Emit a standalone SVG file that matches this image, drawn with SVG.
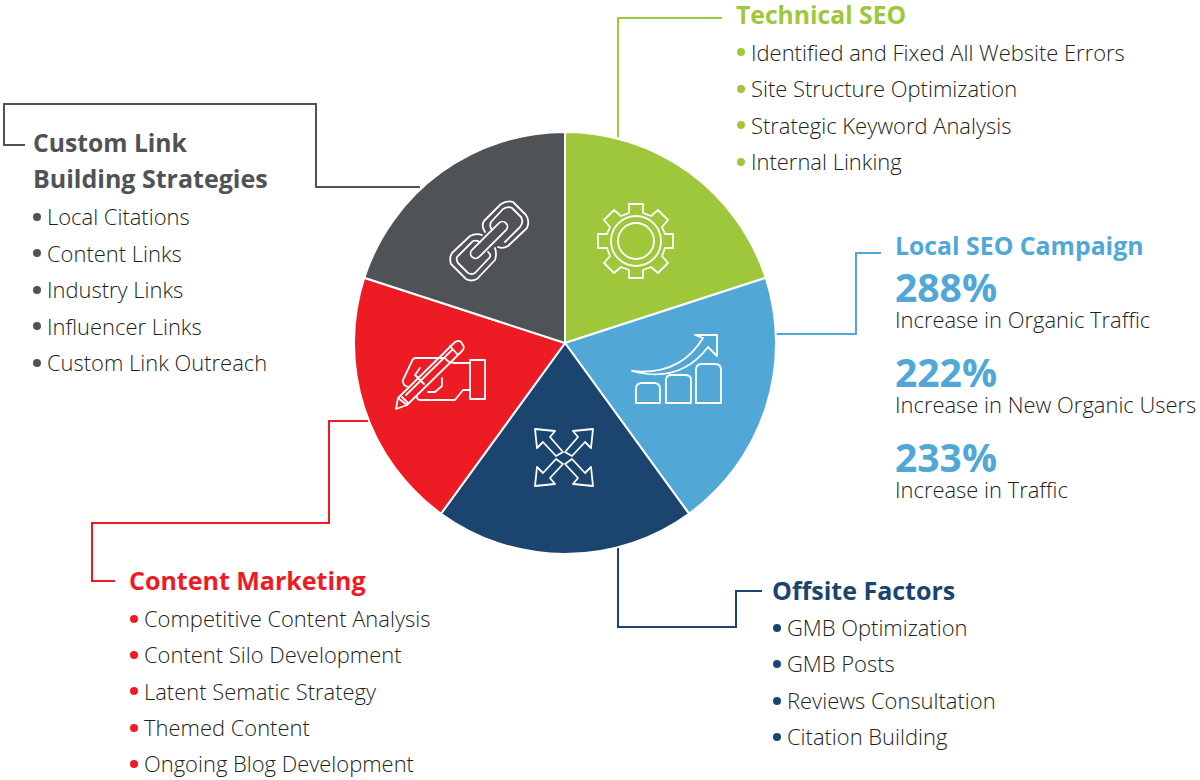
<svg xmlns="http://www.w3.org/2000/svg" width="1200" height="780" viewBox="0 0 1200 780">
<style>
text{font-family:"Open Sans","Noto Sans","Liberation Sans",sans-serif}
.h{font-size:25px;font-weight:700}
.t{font-size:21.95px;font-weight:300;fill:#231f20}
.n{font-size:39px;font-weight:700;fill:#51a7d6}
.c{fill:none;stroke-width:2}
.w{fill:none;stroke:#fff;stroke-width:1.8;stroke-linejoin:round;stroke-linecap:round}
.s{stroke:#fff;stroke-width:2}
</style>
<rect width="1200" height="780" fill="#fff"/>
<g id="connectors">
<path class="c" stroke="#9fc73b" d="M618 137V18H722"/>
<path class="c" stroke="#51a7d6" d="M776 334H856V253H881"/>
<path class="c" stroke="#1b456e" d="M618 546V627H736V591H762"/>
<path class="c" stroke="#ed1c24" d="M372 421H329V523H92V581H115"/>
<path class="c" stroke="#4f5356" d="M420 187H316V104H4V145H25"/>
</g>
<g id="pie">
<path class="s" fill="#9fc73b" d="M565 343V132A211 211 0 0 1 765.7 277.8Z"/>
<path class="s" fill="#51a7d6" d="M565 343L765.7 277.8A211 211 0 0 1 689 513.7Z"/>
<path class="s" fill="#1b456e" d="M565 343L689 513.7A211 211 0 0 1 441 513.7Z"/>
<path class="s" fill="#ed1c24" d="M565 343L441 513.7A211 211 0 0 1 364.3 277.8Z"/>
<path class="s" fill="#4f5356" d="M565 343L364.3 277.8A211 211 0 0 1 565 132Z"/>
</g>
<g id="icon-gear">
<circle class="w" cx="636" cy="241" r="25"/><circle class="w" cx="636" cy="241" r="18"/>
<path class="w" d="M629 204H643V213L651 216L658 210L668 220L662 227L665 234H673V248H665L662 256L668 263L658 273L651 267L643 270V278H629V270L621 267L614 273L604 263L610 256L607 248H598V234H607L610 227L604 220L614 210L621 216L629 213Z"/>
</g>
<g id="icon-chart">
<path class="w" d="M636 403V389Q636 383 642 383H654Q660 383 660 389V403Z"/>
<path class="w" d="M666 403V380Q666 375 672 375H685Q691 375 691 380V403Z"/>
<path class="w" d="M696 403V370Q696 364 702 364H715Q721 364 721 370V403Z"/>
<path class="w" d="M632 371Q680 376 703 338L695 335H717V356L708 347Q680 384 632 371Z"/>
</g>
<g id="icon-arrows">
<path class="w" d="M535 429L555 431L550 437L563 452L556 456L543 442L537 448Z"/>
<path class="w" d="M593 429L573 431L578 437L565 452L572 456L585 442L591 448Z"/>
<path class="w" d="M535 486L555 484L550 478L563 464L556 459L543 473L537 467Z"/>
<path class="w" d="M593 486L573 484L578 478L565 464L572 459L585 473L591 467Z"/>
</g>
<g id="icon-pencil">
<path class="w" d="M396 409L398 398L455 342Q459 340 461 342L463 345Q465 348 462 351L407 405Z"/>
<path class="w" d="M398 398L407 405M402 397L408 403M450 346L457 354M406 395L452 350"/>
<path class="w" d="M470 360H485V399H470ZM470 363H455Q448 363 445 358H416Q413 358 412 361L403 380Q402 385 408 387"/>
<path class="w" d="M470 390H463L455 400H421Q417 400 417 397"/>
<path class="w" d="M420 368L415 375L424 384M442 378V386L435 392H428"/>
</g>
<g id="icon-link">
<path class="w" d="M485 232Q481 226 484 221L501 204Q507 200 513 202L526 215Q530 221 527 228L508 246Q503 249 498 247"/>
<path class="w" d="M492 230Q489 226 491 222L503 209Q508 206 512 208L521 217Q524 222 520 227L505 242"/>
<rect class="w" x="465" y="235" width="48" height="10" rx="5" transform="rotate(-45 489 240)"/>
<path class="w" d="M482 235Q476 233 470 236L452 253Q449 258 451 264L466 279Q471 282 477 279L495 260Q497 254 495 248"/>
<path class="w" d="M480 242Q476 240 473 241L457 257Q456 260 458 263L468 273Q472 275 475 273L490 257Q491 254 488 252"/>
</g>
<g id="technical-seo">
<text class="h" x="736" y="24" fill="#9fc73b" style="font-size:24.7px">Technical SEO</text>
<circle cx="741" cy="52" r="4" fill="#9fc73b"/><text class="t" x="751" y="60.5">Identified and Fixed All Website Errors</text>
<circle cx="741" cy="89" r="4" fill="#9fc73b"/><text class="t" x="751" y="97">Site Structure Optimization</text>
<circle cx="741" cy="125" r="4" fill="#9fc73b"/><text class="t" x="751" y="133.5">Strategic Keyword Analysis</text>
<circle cx="741" cy="162" r="4" fill="#9fc73b"/><text class="t" x="751" y="170">Internal Linking</text>
</g>
<g id="local-seo">
<text class="h" x="895" y="255" fill="#51a7d6" style="font-size:24.8px">Local SEO Campaign</text>
<text class="n" x="895" y="302">288%</text>
<text class="t" x="895" y="328">Increase in Organic Traffic</text>
<text class="n" x="895" y="387">222%</text>
<text class="t" x="895" y="413">Increase in New Organic Users</text>
<text class="n" x="895" y="472">233%</text>
<text class="t" x="895" y="498">Increase in Traffic</text>
</g>
<g id="offsite-factors">
<text class="h" x="772" y="600" fill="#1b456e">Offsite Factors</text>
<circle cx="777" cy="628" r="4" fill="#1b456e"/><text class="t" x="787" y="636">GMB Optimization</text>
<circle cx="777" cy="664" r="4" fill="#1b456e"/><text class="t" x="787" y="672">GMB Posts</text>
<circle cx="777" cy="701" r="4" fill="#1b456e"/><text class="t" x="787" y="709">Reviews Consultation</text>
<circle cx="777" cy="737" r="4" fill="#1b456e"/><text class="t" x="787" y="745">Citation Building</text>
</g>
<g id="content-marketing">
<text class="h" x="129" y="590" fill="#ed1c24">Content Marketing</text>
<circle cx="134" cy="619" r="4" fill="#ed1c24"/><text class="t" x="144" y="627">Competitive Content Analysis</text>
<circle cx="134" cy="655" r="4" fill="#ed1c24"/><text class="t" x="144" y="663">Content Silo Development</text>
<circle cx="134" cy="691" r="4" fill="#ed1c24"/><text class="t" x="144" y="699.5">Latent Sematic Strategy</text>
<circle cx="134" cy="728" r="4" fill="#ed1c24"/><text class="t" x="144" y="736">Themed Content</text>
<circle cx="134" cy="764" r="4" fill="#ed1c24"/><text class="t" x="144" y="772">Ongoing Blog Development</text>
</g>
<g id="custom-link">
<text class="h" x="33" y="152" fill="#4f5356" style="font-size:24.7px">Custom Link</text>
<text class="h" x="33" y="188" fill="#4f5356">Building Strategies</text>
<circle cx="37" cy="217" r="4" fill="#4f5356"/><text class="t" x="47" y="225">Local Citations</text>
<circle cx="37" cy="253" r="4" fill="#4f5356"/><text class="t" x="47" y="261.5">Content Links</text>
<circle cx="37" cy="290" r="4" fill="#4f5356"/><text class="t" x="47" y="298">Industry Links</text>
<circle cx="37" cy="326" r="4" fill="#4f5356"/><text class="t" x="47" y="334.5">Influencer Links</text>
<circle cx="37" cy="363" r="4" fill="#4f5356"/><text class="t" x="47" y="371">Custom Link Outreach</text>
</g>
</svg>
